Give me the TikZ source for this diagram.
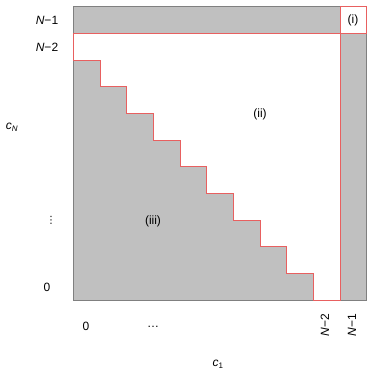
\documentclass[tikz,border=0pt]{standalone}
\usepackage{fontspec}
\setmainfont{Liberation Sans}
\newfontfamily\symfont{DejaVu Sans}
\definecolor{cellgray}{RGB}{192,192,192}
\definecolor{edgegray}{RGB}{128,128,128}
\definecolor{redline}{RGB}{232,96,96}
\begin{document}
\begin{tikzpicture}[x=1pt,y=1pt,
  lab/.style={font=\fontsize{12}{14}\selectfont, inner sep=0pt},
  regionline/.style={draw=redline, line width=0.8pt, line join=miter},
  outer/.style={draw=edgegray, line width=0.8pt}]
\useasboundingbox (0,0) rectangle (374,374);
\begin{scope}[shift={(73.333pt,74pt)}, x=26.6667pt, y=26.6667pt]
  \fill[cellgray] (0,0) rectangle (11,11);
  \draw[outer] (0,0) rectangle (11,11);
  \fill[white] (10,10) rectangle (11,11);
  \fill[white] (0,10) -- (10,10) -- (10,0) -- (9,0) -- (9,1) -- (8,1) -- (8,2) -- (7,2) -- (7,3) -- (6,3) -- (6,4) -- (5,4) -- (5,5) -- (4,5) -- (4,6) -- (3,6) -- (3,7) -- (2,7) -- (2,8) -- (1,8) -- (1,9) -- (0,9) -- cycle;
  \draw[regionline] (0,10) -- (10,10) -- (10,0) -- (9,0) -- (9,1) -- (8,1) -- (8,2) -- (7,2) -- (7,3) -- (6,3) -- (6,4) -- (5,4) -- (5,5) -- (4,5) -- (4,6) -- (3,6) -- (3,7) -- (2,7) -- (2,8) -- (1,8) -- (1,9) -- (0,9) -- cycle;
  \draw[regionline] (10,10) rectangle (11,11);
\end{scope}
\node[lab] (rowNm1) at (47,354) {\textit{N}−1};
\node[lab] (rowNm2) at (47,327) {\textit{N}−2};
\node[lab] (cN) at (12,247) {\textit{c}\textsubscript{\textit{N}}};
\node[lab] (rowdots) at (51,154) {{\symfont\fontsize{10}{12}\selectfont ⋮}};
\node[lab] (row0) at (47,87) {0};
\node[lab] (col0) at (86,48) {0};
\node[lab] (coldots) at (153,47) {\ldots};
\node[lab, rotate=90] (colNm2) at (325,49) {\textit{N}−2};
\node[lab, rotate=90] (colNm1) at (352,49) {\textit{N}−1};
\node[lab] (c1) at (218,10) {\textit{c}\textsubscript{1}};
\node[lab] (regii) at (260,260) {(ii)};
\node[lab] (regiii) at (153,153) {(iii)};
\node[lab] (regi) at (353,354) {(i)};
\end{tikzpicture}
\end{document}
